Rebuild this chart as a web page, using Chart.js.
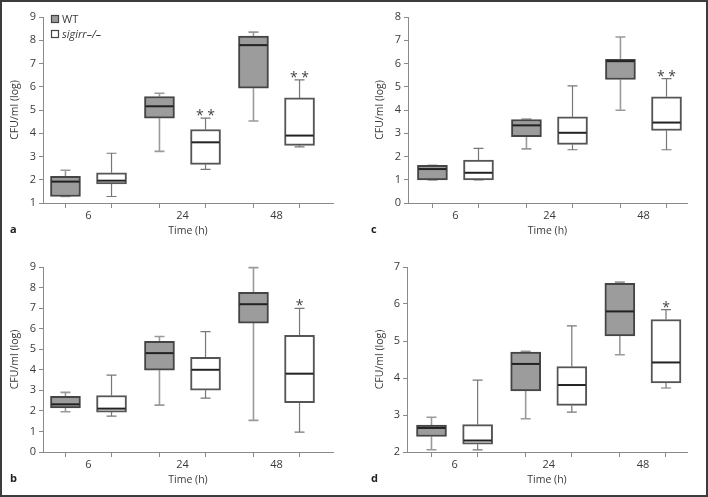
<!DOCTYPE html>
<html>
<head>
<meta charset="utf-8">
<script src="https://cdn.jsdelivr.net/npm/chart.js@4/dist/chart.umd.min.js"></script>
<style>
  body { margin: 0; background: #fff; }
  #fig { position: relative; width: 708px; height: 497px; overflow: hidden; }
  #fig canvas { position: absolute; }
  #frame { position: absolute; left: 0; top: 0; width: 708px; height: 497px; box-sizing: border-box; border: 2px solid #3c3c3c; pointer-events: none; }
</style>
</head>
<body>
<div id="fig">
  <canvas id="pa" width="354" height="248" style="left:0;top:0"></canvas>
  <canvas id="pc" width="354" height="248" style="left:354px;top:0"></canvas>
  <canvas id="pb" width="354" height="249" style="left:0;top:248px"></canvas>
  <canvas id="pd" width="354" height="249" style="left:354px;top:248px"></canvas>
  <div id="frame"></div>
</div>
<script>
// time points (h)
const timeLabels = ['6', '24', '48'];
const groupNames = ['WT', 'sigirr\u2013/\u2013'];

// five-number summaries per time point: [min, q1, median, q3, max]
const aWT = [[1.28, 1.28, 1.92, 2.15, 2.41], [3.22, 4.65, 5.16, 5.58, 5.72], [4.53, 5.94, 7.79, 8.18, 8.35]];
const aKO = [[1.28, 1.82, 1.96, 2.30, 3.14], [2.45, 2.66, 3.61, 4.16, 4.65], [3.41, 3.48, 3.90, 5.52, 6.30]];
const aStars = ['', '* *', '* *'];

const bWT = [[1.96, 2.14, 2.32, 2.71, 2.90], [2.28, 3.98, 4.81, 5.38, 5.62], [1.54, 6.27, 7.19, 7.77, 8.97]];
const bKO = [[1.75, 1.94, 2.11, 2.75, 3.74], [2.62, 3.01, 4.00, 4.60, 5.86], [0.97, 2.40, 3.81, 5.67, 6.99]];
const bStars = ['', '', '*'];

const cWT = [[0.99, 0.99, 1.46, 1.62, 1.62], [2.33, 2.85, 3.34, 3.59, 3.61], [3.99, 5.31, 6.10, 6.18, 7.14]];
const cKO = [[0.99, 0.99, 1.30, 1.85, 2.35], [2.29, 2.52, 3.02, 3.71, 5.04], [2.29, 3.12, 3.46, 4.57, 5.35]];
const cStars = ['', '', '* *'];

const dWT = [[2.06, 2.42, 2.65, 2.73, 2.94], [2.90, 3.65, 4.38, 4.70, 4.72], [4.63, 5.14, 5.80, 6.56, 6.59]];
const dKO = [[2.06, 2.21, 2.31, 2.74, 3.94], [3.08, 3.26, 3.81, 4.31, 5.41], [3.73, 3.87, 4.42, 5.58, 5.85]];
const dStars = ['', '', '*'];

const FONT = "'Open Sans', 'Noto Sans', sans-serif";
const TEXT = '#3a3a3a';
const AXIS = '#8a8a8a';
const OFF = 0.245;

const boxPlugin = {
  id: 'boxParts',
  beforeDatasetsDraw(chart, args, opts) {
    const {ctx} = chart;
    const y = chart.scales.y;
    ctx.save();
    opts.sets.forEach((stats, di) => {
      const meta = chart.getDatasetMeta(di);
      ctx.strokeStyle = di === 0 ? '#9a9a9a' : '#777';
      ctx.lineWidth = di === 0 ? 1.6 : 1.2;
      meta.data.forEach((bar, i) => {
        const s = stats[i];
        const x = bar.x;
        const pMin = y.getPixelForValue(s[0]);
        const pQ1 = y.getPixelForValue(s[1]);
        const pQ3 = y.getPixelForValue(s[3]);
        const pMax = y.getPixelForValue(s[4]);
        ctx.beginPath();
        ctx.moveTo(x, pQ1); ctx.lineTo(x, pMin);
        ctx.moveTo(x - 5, pMin); ctx.lineTo(x + 5, pMin);
        ctx.moveTo(x, pQ3); ctx.lineTo(x, pMax);
        ctx.moveTo(x - 5, pMax); ctx.lineTo(x + 5, pMax);
        ctx.stroke();
      });
    });
    ctx.restore();
  },
  afterDatasetsDraw(chart, args, opts) {
    const {ctx} = chart;
    const y = chart.scales.y;
    const sets = opts.sets;
    ctx.save();
    ctx.strokeStyle = '#222';
    ctx.lineWidth = 2;
    sets.forEach((stats, di) => {
      const meta = chart.getDatasetMeta(di);
      meta.data.forEach((bar, i) => {
        const pMed = y.getPixelForValue(stats[i][2]);
        const half = bar.width / 2 - 1;
        ctx.beginPath();
        ctx.moveTo(bar.x - half, pMed);
        ctx.lineTo(bar.x + half, pMed);
        ctx.stroke();
      });
    });
    // significance marks above the knockout whiskers
    const koMeta = chart.getDatasetMeta(1);
    ctx.fillStyle = '#444';
    ctx.font = '14px ' + FONT;
    ctx.textAlign = 'center';
    ctx.textBaseline = 'alphabetic';
    opts.stars.forEach((st, i) => {
      if (!st) return;
      const bar = koMeta.data[i];
      ctx.fillText(st, bar.x, y.getPixelForValue(sets[1][i][4]) + 2);
    });
    ctx.restore();
  },
  afterDraw(chart, args, opts) {
    const {ctx, chartArea} = chart;
    ctx.save();
    ctx.fillStyle = '#222';
    ctx.font = 'bold 11px ' + FONT;
    ctx.textAlign = 'left';
    ctx.textBaseline = 'middle';
    ctx.fillText(opts.letter, opts.letterX, chart.height - 18);
    if (opts.legend) {
      const fills = ['#9c9c9c', '#ffffff'];
      groupNames.forEach((name, k) => {
        const lx = chartArea.left + 8;
        const ly = chartArea.top - 2 + k * 15;
        ctx.fillStyle = fills[k];
        ctx.fillRect(lx, ly, 8, 8);
        ctx.strokeStyle = '#444';
        ctx.lineWidth = 1.2;
        ctx.strokeRect(lx + 0.5, ly + 0.5, 7, 7);
        ctx.fillStyle = TEXT;
        ctx.font = (k === 1 ? 'italic ' : '') + '11px ' + FONT;
        ctx.fillText(name, lx + 11, ly + 4.5);
      });
    }
    ctx.restore();
  }
};

function makePanel(p) {
  const canvas = document.getElementById(p.id);
  const W = canvas.width, H = canvas.height;
  const tickVals = [];
  timeLabels.forEach((t, i) => { tickVals.push(i + 1 - OFF, i + 1, i + 1 + OFF); });
  const isCat = (v) => Math.abs(v - Math.round(v)) < 1e-6;

  const toBars = (stats, shift) => stats.map((s, i) => ({x: i + 1 + shift, y: [s[1], s[3]]}));

  return new Chart(canvas, {
    type: 'bar',
    data: {
      datasets: [{
        label: groupNames[0],
        data: toBars(p.wt, -OFF),
        backgroundColor: '#9c9c9c',
        borderColor: '#454545',
        borderWidth: 2,
        borderSkipped: false,
        barThickness: 30,
        grouped: false
      }, {
        label: groupNames[1],
        data: toBars(p.ko, OFF),
        backgroundColor: '#ffffff',
        borderColor: '#555555',
        borderWidth: 2,
        borderSkipped: false,
        barThickness: 30,
        grouped: false
      }]
    },
    options: {
      responsive: false,
      animation: false,
      layout: {padding: {top: p.top, right: W - p.right, left: 0, bottom: 0}},
      plugins: {
        legend: {display: false},
        tooltip: {enabled: false},
        boxParts: {sets: [p.wt, p.ko], stars: p.stars, letter: p.letter, letterX: p.letterX, legend: !!p.legend}
      },
      scales: {
        x: {
          type: 'linear',
          offset: false,
          min: p.xMin,
          max: p.xMax,
          afterBuildTicks: (s) => { s.ticks = tickVals.map((v) => ({value: v})); },
          afterFit: (s) => { s.height = H - p.bottom; },
          grid: {
            offset: false,
            drawOnChartArea: false,
            tickLength: 5,
            tickColor: (ctx) => (ctx.tick && isCat(ctx.tick.value) ? 'rgba(0,0,0,0)' : AXIS)
          },
          border: {color: AXIS, width: 1},
          ticks: {
            autoSkip: false,
            maxRotation: 0,
            padding: 1,
            color: TEXT,
            font: {family: FONT, size: 11},
            callback: (v) => (isCat(v) ? timeLabels[Math.round(v) - 1] : '')
          },
          title: {
            display: true,
            text: 'Time (h)',
            color: TEXT,
            font: {family: FONT, size: 10.5},
            padding: {top: 0, bottom: 11}
          }
        },
        y: {
          min: p.yMin,
          max: p.yMax,
          afterFit: (s) => { s.width = p.left; },
          grid: {drawOnChartArea: false, tickLength: 4, tickColor: AXIS},
          border: {color: AXIS, width: 1},
          ticks: {stepSize: 1, padding: 3, color: TEXT, font: {family: FONT, size: 11}},
          title: {
            display: true,
            text: 'CFU/ml (log)',
            color: TEXT,
            font: {family: FONT, size: 10.5},
            padding: {top: p.titlePad, bottom: 0}
          }
        }
      }
    },
    plugins: [boxPlugin]
  });
}

makePanel({id: 'pa', wt: aWT, ko: aKO, stars: aStars, yMin: 1, yMax: 9, xMin: 0.516, xMax: 3.601,
  left: 43, top: 17, bottom: 203, right: 333, titlePad: 9, letter: 'a', letterX: 10, legend: true});
makePanel({id: 'pc', wt: cWT, ko: cKO, stars: cStars, yMin: 0, yMax: 8, xMin: 0.495, xMax: 3.463,
  left: 54, top: 17, bottom: 203, right: 333, titlePad: 20, letter: 'c', letterX: 17});
makePanel({id: 'pb', wt: bWT, ko: bKO, stars: bStars, yMin: 0, yMax: 9, xMin: 0.516, xMax: 3.601,
  left: 43, top: 19, bottom: 204, right: 333, titlePad: 9, letter: 'b', letterX: 10});
makePanel({id: 'pd', wt: dWT, ko: dKO, stars: dStars, yMin: 2, yMax: 7, xMin: 0.495, xMax: 3.468,
  left: 53, top: 19, bottom: 204, right: 333, titlePad: 20, letter: 'd', letterX: 17});
</script>
</body>
</html>
